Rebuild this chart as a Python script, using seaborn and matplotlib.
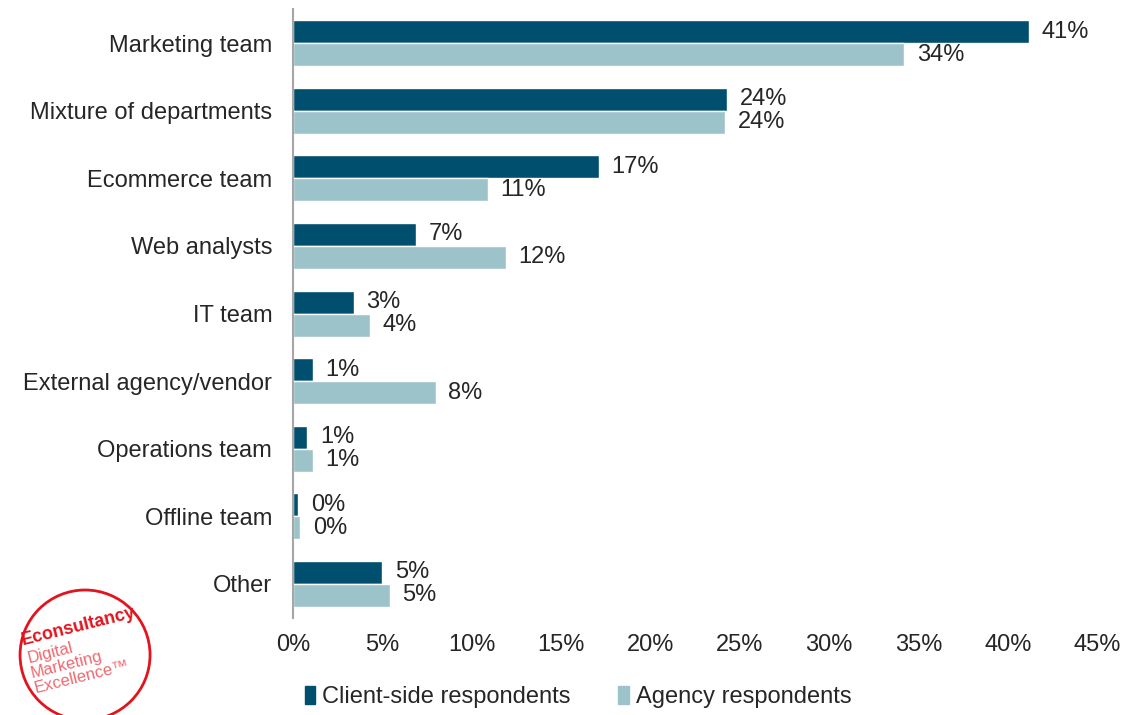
import numpy as np
import pandas as pd
import matplotlib
matplotlib.use("Agg")
import matplotlib.pyplot as plt
import seaborn as sns
from matplotlib.patches import Circle

categories = ["Marketing team", "Mixture of departments", "Ecommerce team", "Web analysts",
              "IT team", "External agency/vendor", "Operations team", "Offline team", "Other"]
client_side = [41.2, 24.3, 17.1, 6.9, 3.4, 1.1, 0.8, 0.3, 5.0]
agency = [34.2, 24.2, 10.9, 11.9, 4.3, 8.0, 1.1, 0.4, 5.4]
series = ["Client-side respondents", "Agency respondents"]
colors = ["#004F6E", "#9DC3CA"]

df = pd.DataFrame({
    "category": categories * 2,
    "value": client_side + agency,
    "series": [series[0]] * len(categories) + [series[1]] * len(categories),
})

sns.set_style("white")
plt.rcParams["font.family"] = ["Liberation Sans", "DejaVu Sans"]
FS = 17
TXT = "#262626"

fig = plt.figure(figsize=(11.38, 7.15), dpi=100)
ax = fig.add_axes([0.2575, 0.136, 0.7065, 0.851])

sns.barplot(data=df, y="category", x="value", hue="series", orient="h",
            palette=colors, width=0.68, ax=ax, legend=False, saturation=1)

for cont in ax.containers:
    for bar in cont:
        w = bar.get_width()
        ax.text(w + 0.7, bar.get_y() + bar.get_height() / 2, f"{w:.0f}%",
                va="center", ha="left", fontsize=FS, color=TXT)

ax.set_xlim(0, 45)
ax.set_xticks(np.arange(0, 46, 5))
ax.set_xticklabels([f"{t}%" for t in range(0, 46, 5)], fontsize=FS, color=TXT)
ax.tick_params(axis="y", labelsize=FS, labelcolor=TXT, length=0, pad=15)
ax.tick_params(axis="x", length=0, pad=12)
ax.set_xlabel("")
ax.set_ylabel("")
for s in ["top", "right", "bottom"]:
    ax.spines[s].set_visible(False)
ax.spines["left"].set_color("#A6A6A6")
ax.spines["left"].set_linewidth(1.5)

# legend
handles = [plt.Rectangle((0, 0), 1, 1, color=c) for c in colors]
fig.legend(handles, series, loc="center", bbox_to_anchor=(0.508, 0.025), ncol=2,
           frameon=False, fontsize=FS, handlelength=0.45, handleheight=0.8,
           handletextpad=0.3, columnspacing=2.0, labelcolor=TXT)

# logo (coords in figure pixels, y measured from bottom)
logo_ax = fig.add_axes([0, 0, 0.16, 0.2])
logo_ax.set_xlim(0, 182)
logo_ax.set_ylim(0, 143)
logo_ax.set_aspect("equal")
logo_ax.axis("off")
logo_ax.add_patch(Circle((85, 60), 65, fill=False, edgecolor="#E2141D", linewidth=2))
logo_ax.text(22, 74, "Econsultancy", rotation=14, rotation_mode="anchor", color="#E2141D",
             fontsize=13, fontweight="bold", ha="left", va="center")
logo_lines = ["Digital", "Marketing", "Excellence\u2122"]
for i, line in enumerate(logo_lines):
    logo_ax.text(28 + 3 * i, 56 - 15 * i, line, rotation=14, rotation_mode="anchor",
                 color="#EE6A70", fontsize=12, ha="left", va="center")

fig.savefig("out.png", dpi=100)
